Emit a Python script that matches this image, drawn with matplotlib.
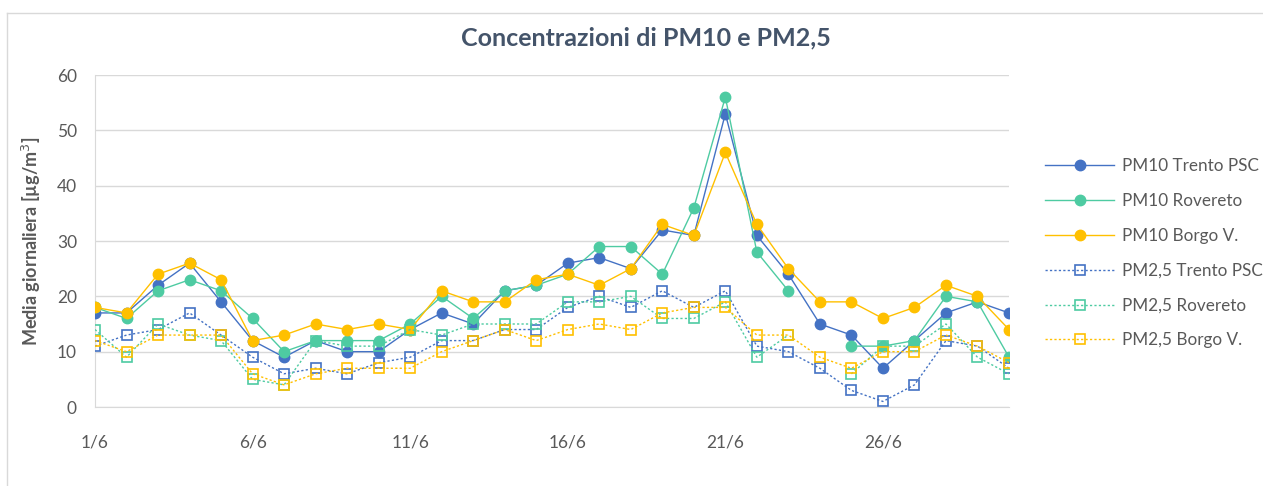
import numpy as np
import matplotlib
matplotlib.use("Agg")
import matplotlib.pyplot as plt
from matplotlib.lines import Line2D

nan = np.nan
days = list(range(1, 31))
tick_days = [1, 6, 11, 16, 21, 26]
tick_labels = ["1/6", "6/6", "11/6", "16/6", "21/6", "26/6"]

pm10_trento = [17, 17, 22, 26, 19, 12, 9, 12, 10, 10, 14, 17, 15, 21, 22, 26, 27, 25, 32, 31,
               53, 31, 24, 15, 13, 7, 12, 17, 19, 17]
pm10_rovereto = [18, 16, 21, 23, 21, 16, 10, 12, 12, 12, 15, 20, 16, 21, 22, 24, 29, 29, 24, 36,
                 56, 28, 21, nan, 11, 11, 12, 20, 19, 9]
pm10_borgo = [18, 17, 24, 26, 23, 12, 13, 15, 14, 15, 14, 21, 19, 19, 23, 24, 22, 25, 33, 31,
              46, 33, 25, 19, 19, 16, 18, 22, 20, 14]
pm25_trento = [11, 13, 14, 17, 13, 9, 6, 7, 6, 8, 9, 12, 12, 14, 14, 18, 20, 18, 21, 18,
               21, 11, 10, 7, 3, 1, 4, 12, 11, 7]
pm25_rovereto = [14, 9, 15, 13, 12, 5, 4, 12, 11, 11, 14, 13, 15, 15, 15, 19, 19, 20, 16, 16,
                 19, 9, 13, nan, 6, 11, 11, 15, 9, 6]
pm25_borgo = [12, 10, 13, 13, 13, 6, 4, 6, 7, 7, 7, 10, 12, 14, 12, 14, 15, 14, 17, 18,
              18, 13, 13, 9, 7, 10, 10, 13, 11, 8]

series_names = ["PM10 Trento PSC", "PM10 Rovereto", "PM10 Borgo V.",
                "PM2,5 Trento PSC", "PM2,5 Rovereto", "PM2,5 Borgo V."]

BLUE = "#4472C4"
GREEN = "#4ECBA2"
YELLOW = "#FFC000"
TXT = "#595959"
TITLE = "#44546A"
GRID = "#D9D9D9"

plt.rcParams['font.family'] = ['Lato', 'DejaVu Sans']

fig = plt.figure(figsize=(12.63, 4.86), dpi=100)
W, H = 1263, 486

# outer chart border (left and top visible)
fig.add_artist(Line2D([7 / W, 7 / W], [0, 1 - 13 / H], transform=fig.transFigure, color=GRID, lw=1))
fig.add_artist(Line2D([7 / W, 1], [1 - 13 / H, 1 - 13 / H], transform=fig.transFigure, color=GRID, lw=1))

ax = fig.add_axes([95 / W, 1 - 407 / H, (1009 - 95) / W, (407 - 75) / H])

pm10 = [(pm10_trento, BLUE), (pm10_rovereto, GREEN), (pm10_borgo, YELLOW)]
pm25 = [(pm25_trento, BLUE), (pm25_rovereto, GREEN), (pm25_borgo, YELLOW)]

handles = []
for (vals, c), name in zip(pm10, series_names[:3]):
    h, = ax.plot(days, vals, color=c, lw=1.0, marker='o', markersize=7.5,
                 markerfacecolor=c, markeredgecolor=c, label=name, zorder=3)
    handles.append(h)
for (vals, c), name in zip(pm25, series_names[3:]):
    h, = ax.plot(days, vals, color=c, lw=1.0, linestyle=(0, (1.6, 1.6)), marker='s',
                 markersize=7.5, markerfacecolor='none', markeredgecolor=c,
                 markeredgewidth=1.2, label=name, zorder=4)
    handles.append(h)

ax.set_xlim(1, 30)
ax.set_ylim(0, 60)
ax.set_yticks(range(0, 61, 10))
ax.set_xticks(tick_days)
ax.set_xticklabels(tick_labels)
ax.tick_params(axis='both', length=0, labelsize=12.5, colors=TXT)
ax.tick_params(axis='x', pad=20)
ax.tick_params(axis='y', pad=13)
ax.grid(axis='y', color=GRID, lw=1)
ax.set_axisbelow(True)
for s in ['top', 'right']:
    ax.spines[s].set_visible(False)
ax.spines['left'].set_color(GRID)
ax.spines['bottom'].set_color(GRID)

ax.set_ylabel("Media giornaliera [µg/m$^3$]", fontsize=13, fontweight='bold', color=TXT, labelpad=10)

fig.text(646 / W, 1 - 38 / H, "Concentrazioni di PM10 e PM2,5", ha='center', va='center',
         fontsize=18, fontweight='bold', color=TITLE)

leg = fig.legend(handles=handles, loc='upper left', bbox_to_anchor=(1030 / W, 1 - 143 / H),
                 frameon=False, fontsize=12.3, labelspacing=1.1, handlelength=4.0,
                 handletextpad=0.5, labelcolor=TXT)

fig.savefig("out.png", dpi=100)
